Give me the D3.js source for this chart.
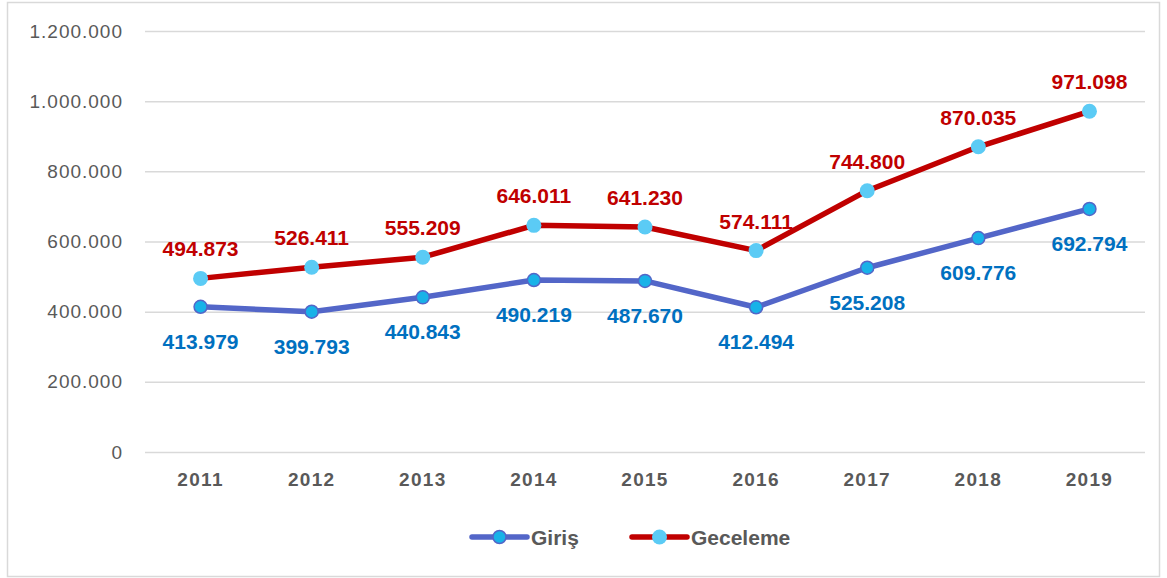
<!DOCTYPE html>
<html>
<head>
<meta charset="utf-8">
<script src="https://cdn.jsdelivr.net/npm/d3@7"></script>
<style>
  html, body { margin: 0; padding: 0; background: #fff; }
  svg { display: block; font-family: "Liberation Sans", Arial, sans-serif; }
</style>
</head>
<body>
<div id="chart"></div>
<script>
// values
const years = ['2011', '2012', '2013', '2014', '2015', '2016', '2017', '2018', '2019'];
const giris = [413979, 399793, 440843, 490219, 487670, 412494, 525208, 609776, 692794];
const geceleme = [494873, 526411, 555209, 646011, 641230, 574111, 744800, 870035, 971098];
const yTicks = [0, 200000, 400000, 600000, 800000, 1000000, 1200000];

const width = 1167, height = 578;
const fmt = (v) => d3.format(',')(v).replace(/,/g, '.');

const svg = d3.select('#chart').append('svg')
  .attr('width', width).attr('height', height)
  .attr('viewBox', `0 0 ${width} ${height}`);

// chart frame
svg.append('rect')
  .attr('x', 7.5).attr('y', 2.5).attr('width', 1152).attr('height', 574)
  .attr('fill', '#fff').attr('stroke', '#d9d9d9').attr('stroke-width', 1.5);

const x = d3.scaleBand().domain(years).range([145, 1145]);
const y = d3.scaleLinear().domain([0, 1200000]).range([452, 31]);
const cx = (d) => x(d) + x.bandwidth() / 2;

// gridlines + y labels
const yAxis = d3.axisLeft(y).tickValues(yTicks).tickFormat(fmt).tickSize(-1000).tickPadding(22);
const ga = svg.append('g').attr('transform', 'translate(145,0)').call(yAxis);
ga.select('.domain').remove();
ga.selectAll('.tick line').attr('stroke', '#d9d9d9').attr('stroke-width', 1.5);
ga.selectAll('.tick text')
  .attr('fill', '#595959').style('font-size', '19px').style('letter-spacing', '1px');

// x labels
const xAxis = d3.axisBottom(x).tickSize(0).tickPadding(21);
const gx = svg.append('g').attr('transform', 'translate(0,452)').call(xAxis);
gx.select('.domain').remove();
gx.selectAll('.tick text')
  .attr('fill', '#595959').style('font-size', '19px').style('font-weight', 'bold')
  .style('letter-spacing', '1.3px');

const series = [
  { name: 'Giriş', values: giris, line: '#5366c8', fill: '#18b2e8', stroke: '#5366c8', label: '#0070c0', dy: 42 },
  { name: 'Geceleme', values: geceleme, line: '#c00000', fill: '#5bcbf5', stroke: 'none', label: '#c00000', dy: -22 },
];

const line = d3.line().x((d) => cx(d.year)).y((d) => y(d.value));

series.forEach((s) => {
  const pts = years.map((yr, i) => ({ year: yr, value: s.values[i] }));
  svg.append('path').datum(pts)
    .attr('d', line).attr('fill', 'none')
    .attr('stroke', s.line).attr('stroke-width', 5.5)
    .attr('stroke-linejoin', 'round').attr('stroke-linecap', 'round');
  svg.append('g').selectAll('circle').data(pts).join('circle')
    .attr('cx', (d) => cx(d.year)).attr('cy', (d) => y(d.value))
    .attr('r', s.stroke === 'none' ? 7.5 : 6.5)
    .attr('fill', s.fill).attr('stroke', s.stroke).attr('stroke-width', 1.5);
  svg.append('g').selectAll('text').data(pts).join('text')
    .attr('x', (d) => cx(d.year)).attr('y', (d) => y(d.value) + s.dy)
    .attr('text-anchor', 'middle').attr('fill', s.label)
    .style('font-size', '21px').style('font-weight', 'bold')
    .text((d) => fmt(d.value));
});

// legend
const legend = svg.append('g').attr('transform', 'translate(0,537)');
const legendX = [472, 632];
series.forEach((s, i) => {
  const lg = legend.append('g').attr('transform', `translate(${legendX[i]},0)`);
  lg.append('line').attr('x1', 0).attr('x2', 55).attr('y1', 0).attr('y2', 0)
    .attr('stroke', s.line).attr('stroke-width', 5.5).attr('stroke-linecap', 'round');
  lg.append('circle').attr('cx', 27.5).attr('cy', 0)
    .attr('r', s.stroke === 'none' ? 7.5 : 6.5)
    .attr('fill', s.fill).attr('stroke', s.stroke).attr('stroke-width', 1.5);
  lg.append('text').attr('x', 59).attr('y', 7.5)
    .attr('fill', '#595959').style('font-size', '21px').style('font-weight', 'bold')
    .text(s.name);
});
</script>
</body>
</html>
